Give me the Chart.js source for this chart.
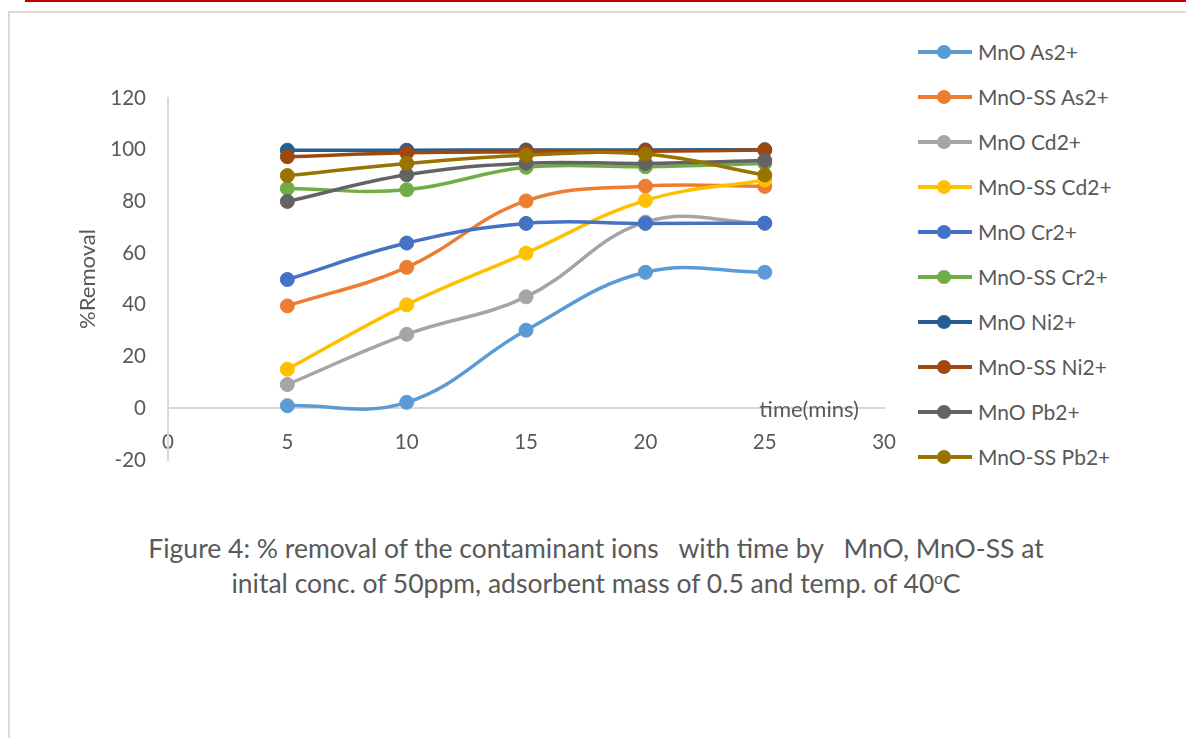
<!DOCTYPE html>
<html>
<head>
<meta charset="utf-8">
<title>% removal with time</title>
<script src="https://cdn.jsdelivr.net/npm/chart.js@4.4.1/dist/chart.umd.min.js"></script>
<style>
    body {
        margin: 0;
        background: #fff;
        font-family: Lato, "Open Sans", sans-serif;
        color: #595959;
    }
    #page {
        position: relative;
        width: 1186px;
        height: 738px;
        overflow: hidden;
    }
    .redline {
        position: absolute;
        left: 25px;
        right: 0;
        top: 0;
        height: 2px;
        background: #c00000;
    }
    .frame {
        position: absolute;
        left: 8px;
        top: 11px;
        width: 1200px;
        height: 760px;
        border: 2px solid #dadada;
    }
    #chartBox {
        position: absolute;
        left: 0;
        top: 0;
        width: 918px;
        height: 500px;
    }
    #legend {
        position: absolute;
        left: 918px;
        top: 29px;
        margin: 0;
        padding: 0;
        list-style: none;
    }
    #legend li {
        height: 45px;
        display: flex;
        align-items: center;
        font-size: 21px;
        white-space: nowrap;
    }
    #legend .swatch {
        position: relative;
        width: 54px;
        height: 4px;
        margin-right: 6px;
    }
    #legend .dot {
        position: absolute;
        left: 19px;
        top: -5px;
        width: 14px;
        height: 14px;
        border-radius: 50%;
    }
    .caption {
        position: absolute;
        left: 3px;
        top: 531px;
        width: 1186px;
        text-align: center;
        font-size: 26.5px;
        line-height: 35px;
    }
    .caption sup {
        font-size: 15px;
        line-height: 0;
        vertical-align: 9px;
    }
</style>
</head>
<body>
<div id="page">
    <div class="redline"></div>
    <div class="frame"></div>
    <div id="chartBox"><canvas id="removalChart"></canvas></div>
    <ul id="legend"></ul>
    <div class="caption">
        Figure 4: % removal of the contaminant ions &nbsp; with time by &nbsp; MnO, MnO-SS at<br>
        inital conc. of 50ppm, adsorbent mass of 0.5 and temp. of 40<sup>o</sup>C
    </div>
</div>

<script>
// 接触時間 (分)
const times = [5, 10, 15, 20, 25];

// 各イオンの除去率 (%)
const mnoAs = [1.0, 2.3, 30.2, 52.6, 52.6];
const ssAs = [39.6, 54.5, 80.2, 85.9, 85.8];
const mnoCd = [9.2, 28.6, 43.1, 72.0, 71.5];
const ssCd = [15.1, 40.0, 60.0, 80.4, 88.3];
const mnoCr = [49.8, 63.9, 71.5, 71.5, 71.6];
const ssCr = [85.0, 84.5, 93.2, 93.4, 94.7];
const mnoNi = [99.8, 99.8, 99.9, 99.9, 100.0];
const ssNi = [97.3, 98.8, 99.2, 99.4, 99.9];
const mnoPb = [80.0, 90.3, 94.8, 94.7, 95.8];
const ssPb = [90.0, 94.7, 97.9, 98.3, 90.2];

const seriesNames = [
    'MnO As2+', 'MnO-SS As2+', 'MnO Cd2+', 'MnO-SS Cd2+', 'MnO Cr2+',
    'MnO-SS Cr2+', 'MnO Ni2+', 'MnO-SS Ni2+', 'MnO Pb2+', 'MnO-SS Pb2+'
];
const seriesValues = [mnoAs, ssAs, mnoCd, ssCd, mnoCr, ssCr, mnoNi, ssNi, mnoPb, ssPb];
const seriesColors = [
    '#5B9BD5', '#ED7D31', '#A5A5A5', '#FFC000', '#4472C4',
    '#70AD47', '#255E91', '#9E480E', '#636363', '#997300'
];

// 軸の範囲
const xMin = 0, xMax = 30, xStep = 5;
const yMin = -20, yMax = 120, yStep = 20;

const textColor = '#595959';
const axisColor = '#d9d9d9';
const fontFamily = 'Lato';

// x軸のタイトルを軸線の右端付近に描く
const timeLabel = {
    id: 'timeLabel',
    afterDraw(chart) {
        const { ctx, chartArea, scales } = chart;
        ctx.save();
        ctx.font = '22px ' + fontFamily;
        ctx.fillStyle = textColor;
        ctx.textAlign = 'center';
        ctx.textBaseline = 'middle';
        ctx.fillText('time(mins)', chartArea.right - 75, scales.y.getPixelForValue(0) + 2);
        ctx.restore();
    }
};

function createChart() {
    const ctx = document.getElementById('removalChart').getContext('2d');

    const datasets = seriesNames.map((name, i) => ({
        label: name,
        data: times.map((t, j) => ({ x: t, y: seriesValues[i][j] })),
        borderColor: seriesColors[i],
        backgroundColor: seriesColors[i],
        pointBackgroundColor: seriesColors[i],
        pointBorderColor: seriesColors[i],
        borderWidth: 3.5,
        pointRadius: 7,
        pointBorderWidth: 1,
        tension: 0.4,
        fill: false,
        order: -i // 後の系列を上に重ねる
    }));

    const chart = new Chart(ctx, {
        type: 'line',
        data: { datasets: datasets },
        options: {
            responsive: true,
            maintainAspectRatio: false,
            animation: false,
            layout: {
                padding: { left: 0, right: 16, top: 98, bottom: 40 }
            },
            plugins: {
                legend: { display: false },
                tooltip: { enabled: false }
            },
            scales: {
                x: {
                    type: 'linear',
                    min: xMin,
                    max: xMax,
                    position: { y: 0 },
                    grid: { display: false, drawTicks: false },
                    border: { color: axisColor, width: 2 },
                    ticks: {
                        stepSize: xStep,
                        padding: 22,
                        color: textColor,
                        font: { family: fontFamily, size: 20.5 }
                    }
                },
                y: {
                    min: yMin,
                    max: yMax,
                    position: 'left',
                    grid: { display: false, drawTicks: false },
                    border: { color: axisColor, width: 2 },
                    ticks: {
                        stepSize: yStep,
                        padding: 22,
                        color: textColor,
                        font: { family: fontFamily, size: 20.5 }
                    },
                    title: {
                        display: true,
                        text: '%Removal',
                        color: textColor,
                        font: { family: fontFamily, size: 22 },
                        padding: { top: 75, bottom: 0 }
                    },
                    afterFit(scale) {
                        scale.width = 168;
                    }
                }
            }
        },
        plugins: [timeLabel]
    });

    buildLegend(chart);
}

// 凡例はHTMLで作る (線 + マーカー)
function buildLegend(chart) {
    const list = document.getElementById('legend');
    list.innerHTML = '';
    chart.data.datasets.forEach(ds => {
        const item = document.createElement('li');
        item.innerHTML = `
            <span class="swatch" style="background:${ds.borderColor}">
                <span class="dot" style="background:${ds.borderColor}"></span>
            </span>${ds.label}`;
        list.appendChild(item);
    });
}

window.onload = function() {
    createChart();
};
</script>
</body>
</html>
